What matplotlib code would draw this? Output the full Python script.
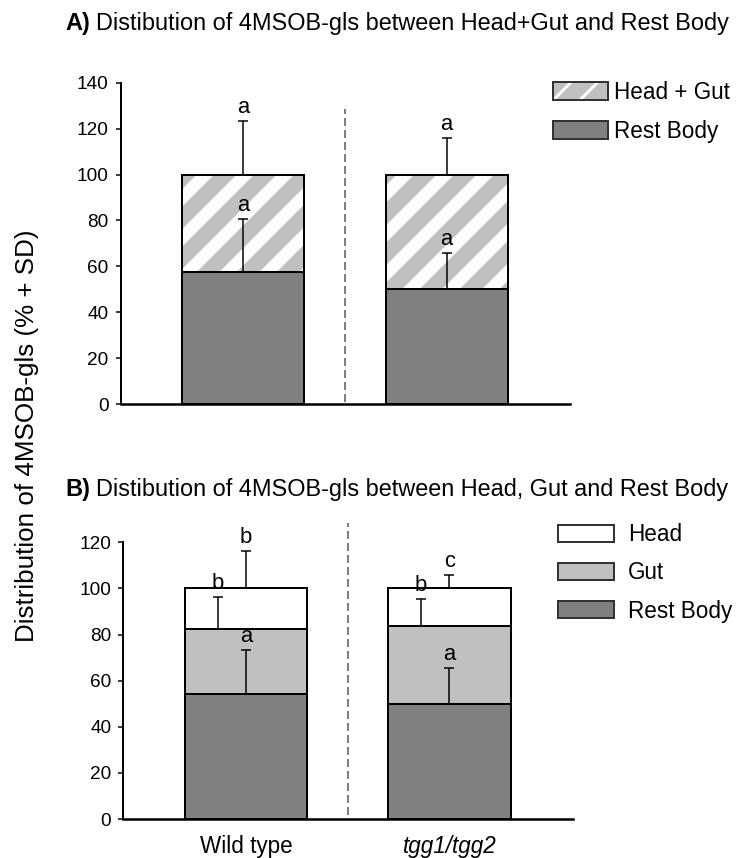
import matplotlib
matplotlib.use("Agg")
import matplotlib.pyplot as plt
import matplotlib.transforms as mtransforms
from matplotlib.patches import Patch

# data (% of total 4MSOB-gls)
genotypes = ['Wild type', 'tgg1/tgg2']

# panel A: Head+Gut vs Rest Body
rest_a = [57.4, 50.0]
headgut_a = [42.6, 50.0]
rest_a_sd = [23.1, 15.7]
headgut_a_sd = [23.3, 15.8]
rest_a_letters = ['a', 'a']
headgut_a_letters = ['a', 'a']

# panel B: Head, Gut, Rest Body
rest_b = [54.2, 49.9]
gut_b = [28.3, 33.8]
head_b = [17.5, 16.3]
rest_b_sd = [19.2, 15.4]
head_b_sd = [13.9, 11.6]   # drawn from top of gut, left of centre
gut_b_sd = [16.1, 5.8]     # drawn from top of bar
rest_b_letters = ['a', 'a']
head_b_letters = ['b', 'b']
gut_b_letters = ['b', 'c']

# high dpi so the hatch tile is wide enough for the broad stripes
DPI = 240
W, H = 736, 858


def px(v):
    # pixels -> points
    return v * 72.0 / DPI


plt.rcParams['font.family'] = ['Liberation Sans', 'DejaVu Sans']
plt.rcParams['hatch.linewidth'] = px(16)
plt.rcParams['lines.scale_dashes'] = False

DARK = '#808080'
LIGHT = '#c0c0c0'
BAR_W = 0.6
LW = px(2)

fig = plt.figure(figsize=(W / DPI, H / DPI), dpi=DPI)
axA = fig.add_axes([120.7 / W, 1 - 404 / H, 449.3 / W, 321.3 / H])
axB = fig.add_axes([123.3 / W, 1 - 819 / H, 449.7 / W, 276.7 / H])
x = [0, 1]


def style_axis(ax, ymax):
    ax.set_xlim(-0.603, 1.607)
    ax.set_ylim(0, ymax)
    for s in ['top', 'right']:
        ax.spines[s].set_visible(False)
    ax.spines['left'].set_linewidth(LW)
    ax.spines['bottom'].set_linewidth(px(2.5))
    ax.tick_params(axis='y', direction='out', length=px(5), width=px(1.5),
                   pad=px(7), labelsize=px(19))
    ax.tick_params(axis='x', length=0, pad=px(16), labelsize=px(22.5))


def err_with_letter(ax, xs, base, sd, letters):
    # only the upper (+SD) half is of interest
    ax.errorbar(xs, base, yerr=[[0] * len(sd), sd], fmt='none', ecolor='black',
                elinewidth=px(1.5), capsize=px(5), capthick=px(1.5), zorder=4)
    for xi, b, s, t in zip(xs, base, sd, letters):
        ax.annotate(t, (xi, b + s), xytext=(0, px(3)), textcoords='offset points',
                    ha='center', va='bottom', fontsize=px(22), zorder=5)


def panel_title(ypix, letter, text):
    t = fig.text(65 / W, 1 - ypix / H, letter, fontsize=px(23.5), fontweight='bold',
                 va='baseline')
    shift = mtransforms.ScaledTranslation(px(30.5) / 72, 0, fig.dpi_scale_trans)
    fig.text(65 / W, 1 - ypix / H, text, fontsize=px(23.5), va='baseline',
             transform=t.get_transform() + shift)


# ---- panel A ----
axA.bar(x, rest_a, BAR_W, color=DARK, edgecolor='black', linewidth=LW, zorder=2)
axA.bar(x, headgut_a, BAR_W, bottom=rest_a, color='white', edgecolor=LIGHT,
        hatch='//', linewidth=0, zorder=2)
axA.bar(x, headgut_a, BAR_W, bottom=rest_a, fill=False, edgecolor='black',
        linewidth=LW, zorder=3)
tot_a = [r + h for r, h in zip(rest_a, headgut_a)]
err_with_letter(axA, x, rest_a, rest_a_sd, rest_a_letters)
err_with_letter(axA, x, tot_a, headgut_a_sd, headgut_a_letters)
axA.axvline(0.5, 0.007, 0.918, color='#555555', lw=px(1.5), linestyle=(0, (px(8), px(4))))
style_axis(axA, 140)
axA.set_yticks(range(0, 141, 20))
axA.set_xticks([])

hg_handle = (Patch(facecolor='white', edgecolor=LIGHT, hatch='///', linewidth=0),
             Patch(fill=False, edgecolor='#333333', linewidth=LW))
axA.legend([hg_handle, Patch(facecolor=DARK, edgecolor='#333333', linewidth=LW)],
           ['Head + Gut', 'Rest Body'], loc='upper left',
           bbox_to_anchor=(553 / W, 1 - 81 / H), bbox_transform=fig.transFigure,
           frameon=False, fontsize=px(22.5), borderpad=0, borderaxespad=0,
           handlelength=2.45, handleheight=0.85, handletextpad=0.28, labelspacing=0.72)

# ---- panel B ----
gut_base = rest_b
head_base = [r + g for r, g in zip(rest_b, gut_b)]
tot_b = [r + g + h for r, g, h in zip(rest_b, gut_b, head_b)]
axB.bar(x, rest_b, BAR_W, color=DARK, edgecolor='black', linewidth=LW, zorder=2)
axB.bar(x, gut_b, BAR_W, bottom=gut_base, color=LIGHT, edgecolor='black', linewidth=LW, zorder=2)
axB.bar(x, head_b, BAR_W, bottom=head_base, color='white', edgecolor='black', linewidth=LW, zorder=2)
err_with_letter(axB, x, rest_b, rest_b_sd, rest_b_letters)
err_with_letter(axB, [xi - 0.14 for xi in x], head_base, head_b_sd, head_b_letters)
err_with_letter(axB, x, tot_b, gut_b_sd, gut_b_letters)
axB.axvline(0.5, 0.014, 1.07, color='#555555', lw=px(1.5), linestyle=(0, (px(8), px(4))),
            clip_on=False)
style_axis(axB, 120)
axB.set_yticks(range(0, 121, 20))
axB.set_xticks(x)
axB.set_xticklabels(genotypes)
axB.get_xticklabels()[1].set_fontstyle('italic')

axB.legend([Patch(facecolor='white', edgecolor='#333333', linewidth=LW),
            Patch(facecolor=LIGHT, edgecolor='#333333', linewidth=LW),
            Patch(facecolor=DARK, edgecolor='#333333', linewidth=LW)],
           ['Head', 'Gut', 'Rest Body'], loc='upper left',
           bbox_to_anchor=(558 / W, 1 - 523 / H), bbox_transform=fig.transFigure,
           frameon=False, fontsize=px(22.5), borderpad=0, borderaxespad=0,
           handlelength=2.5, handleheight=0.8, handletextpad=0.6, labelspacing=0.68)

# titles and shared y label
panel_title(30, 'A)', 'Distibution of 4MSOB-gls between Head+Gut and Rest Body')
panel_title(496, 'B)', 'Distibution of 4MSOB-gls between Head, Gut and Rest Body')
fig.text(27 / W, 1 - 436 / H, 'Distribution of 4MSOB-gls (% + SD)', rotation=90,
         ha='center', va='center', fontsize=px(26))

fig.savefig('out.png', dpi=DPI)
